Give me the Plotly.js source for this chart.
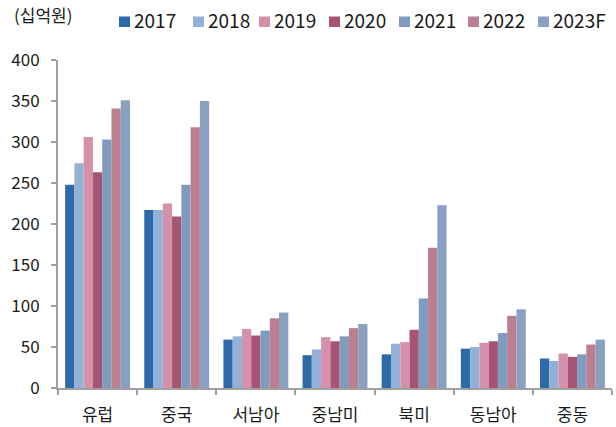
<!DOCTYPE html>
<html>
<head>
<meta charset="utf-8">
<script src="https://cdn.plot.ly/plotly-3.0.1.min.js"></script>
<style>html,body{margin:0;padding:0;background:#fff;}#chart{width:616px;height:427px;}</style>
</head>
<body>
<div id="chart"></div>
<script>
// ---- data ----
var categories = ['유럽', '중국', '서남아', '중남미', '북미', '동남아', '중동'];
var seriesNames = ['2017', '2018', '2019', '2020', '2021', '2022', '2023F'];
var v2017  = [248, 217, 59, 40, 41, 48, 36];
var v2018  = [274, 217, 63, 47, 54, 50, 33];
var v2019  = [306, 225, 72, 62, 56, 55, 42];
var v2020  = [263, 209, 64, 57, 71, 57, 38];
var v2021  = [303, 248, 70, 63, 109, 67, 41];
var v2022  = [341, 318, 85, 73, 171, 88, 53];
var v2023F = [351, 350, 92, 78, 223, 96, 59];
var unitLabel = '(십억원)';
var yTicks = [0, 50, 100, 150, 200, 250, 300, 350, 400];

// ---- styles ----
var seriesValues = [v2017, v2018, v2019, v2020, v2021, v2022, v2023F];
var colors = ['#2C6BA8', '#93B0D8', '#D591A9', '#A75373', '#7F9BBD', '#BB7F90', '#8AA0C2'];
var FONT = '"Noto Sans CJK KR", "Noto Sans", sans-serif';
var M = {l: 58, r: 4, t: 60, b: 39};
var W = 616, H = 427;
var PW = W - M.l - M.r, PH = H - M.t - M.b;
function px2x(px) { return (px - M.l) / PW; }
function py2y(py) { return (H - M.b - py) / PH; }

var traces = seriesNames.map(function (name, i) {
  return {
    type: 'bar',
    name: name,
    x: categories,
    y: seriesValues[i],
    marker: {color: colors[i], line: {width: 0}},
    hoverinfo: 'x+y+name'
  };
});

// custom legend layout (pixel positions of the marker boxes)
var legendLeft = [119, 193, 259, 329, 399, 468, 538];
var shapes = [], annotations = [];
seriesNames.forEach(function (name, i) {
  shapes.push({
    type: 'rect', xref: 'paper', yref: 'paper',
    x0: px2x(legendLeft[i]), x1: px2x(legendLeft[i] + 11),
    y0: py2y(27), y1: py2y(16.5),
    fillcolor: colors[i], line: {width: 0}
  });
  annotations.push({
    xref: 'paper', yref: 'paper', x: px2x(legendLeft[i] + 13), y: py2y(20),
    xanchor: 'left', yanchor: 'middle', showarrow: false,
    text: name, font: {family: FONT, size: 19, color: '#1a1a1a'}
  });
});
annotations.push({
  xref: 'paper', yref: 'paper', x: px2x(12), y: py2y(14),
  xanchor: 'left', yanchor: 'middle', showarrow: false,
  text: unitLabel, font: {family: FONT, size: 17, color: '#1a1a1a'}
});

var layout = {
  width: W, height: H,
  margin: M,
  paper_bgcolor: '#fff', plot_bgcolor: '#fff',
  barmode: 'group', bargap: 0.18, bargroupgap: 0,
  showlegend: false,
  font: {family: FONT, color: '#1a1a1a'},
  xaxis: {
    type: 'category', tickson: 'boundaries',
    showline: true, linecolor: '#A0A0A0', linewidth: 2,
    ticks: 'outside', ticklen: 5, tickcolor: '#A0A0A0', tickwidth: 2,
    showgrid: false, zeroline: false,
    tickfont: {family: FONT, size: 17, color: '#1a1a1a'},
    ticklabelstandoff: 11
  },
  yaxis: {
    range: [0, 400], tickvals: yTicks, ticktext: yTicks.map(String),
    showline: true, linecolor: '#A0A0A0', linewidth: 2,
    ticks: 'outside', ticklen: 5, tickcolor: '#A0A0A0', tickwidth: 2,
    showgrid: false, zeroline: false,
    tickfont: {family: FONT, size: 17, color: '#1a1a1a'},
    ticklabelstandoff: 8
  },
  shapes: shapes,
  annotations: annotations
};

Plotly.newPlot('chart', traces, layout, {staticPlot: true, displayModeBar: false});
</script>
</body>
</html>
